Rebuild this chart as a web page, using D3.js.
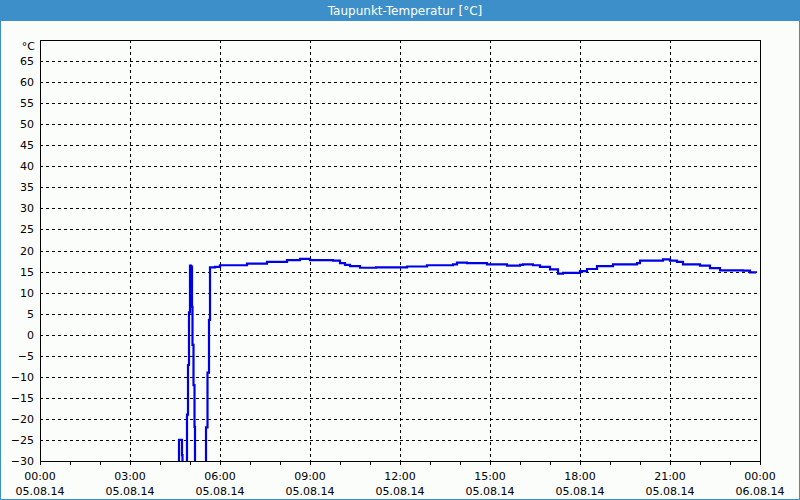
<!DOCTYPE html>
<html><head><meta charset="utf-8">
<script src="https://cdn.jsdelivr.net/npm/d3@7"></script>
<style>html,body{margin:0;padding:0;background:#fbfdfb;}svg{display:block;}</style>
</head><body>
<script>
const title = "Taupunkt-Temperatur [°C]";
const unitLabel = "°C";
// minutes since 05.08.14 00:00
const times = [277,278,283,284,285,293,294,296,298,300,302,304,305,307,309,310,331,332,335,338,340,350,360,406,414,440,454,474,494,514,520,534,540,586,600,610,620,640,672,734,774,826,834,854,886,894,926,934,960,966,986,1000,1020,1036,1046,1060,1080,1094,1114,1140,1146,1174,1194,1200,1240,1246,1260,1274,1286,1306,1320,1340,1360,1394,1406,1420,1432];
const values = [-40,-25,-25,-28.6,-40,-40,-19,-7.2,5.3,16.4,16.2,6.6,-2.4,-12,-21.9,-40,-40,-22,-9,3.5,16.0,16.1,16.5,16.5,16.9,16.9,17.3,17.3,17.7,17.7,18.0,18.0,17.7,17.6,17.0,16.6,16.3,15.9,16.0,16.2,16.5,16.7,17.1,17.0,17.0,16.7,16.7,16.4,16.6,16.7,16.5,16.1,15.5,14.5,14.7,14.7,15.1,15.6,16.3,16.3,16.7,16.7,17.0,17.6,17.6,17.9,17.6,17.3,16.7,16.7,16.4,15.8,15.3,15.3,15.2,14.8,14.7];
const yTicks = [-30,-25,-20,-15,-10,-5,0,5,10,15,20,25,30,35,40,45,50,55,60,65];
const xTickHours = [0,3,6,9,12,15,18,21,24];
const xTimeLabels = ["00:00","03:00","06:00","09:00","12:00","15:00","18:00","21:00","00:00"];
const xDateLabels = ["05.08.14","05.08.14","05.08.14","05.08.14","05.08.14","05.08.14","05.08.14","05.08.14","06.08.14"];

const W = 800, H = 500;
const m = {left:40, right:760, top:40, bottom:461};
const svg = d3.select("body").append("svg").attr("width",W).attr("height",H)
  .style("font-family","'DejaVu Sans', Verdana, sans-serif");

svg.append("rect").attr("x",0.5).attr("y",0.5).attr("width",W-1).attr("height",H-1)
  .attr("fill","#fbfdfb").attr("stroke","#3c8fc8");
svg.append("rect").attr("x",0).attr("y",0).attr("width",W).attr("height",21).attr("fill","#3c8fc8");
svg.append("text").attr("x",405).attr("y",15).attr("text-anchor","middle")
  .attr("fill","#fff").style("font-size","12px").text(title);

const x = d3.scaleLinear().domain([0,24*60]).range([m.left,m.right]);
const y = d3.scaleLinear().domain([-30,70]).range([m.bottom,m.top]);

// grid
const g = svg.append("g");
g.selectAll(".hg").data(yTicks.filter(v=>v>-30)).join("line")
  .attr("x1",m.left).attr("x2",m.right)
  .attr("y1",d=>Math.round(y(d))+0.5).attr("y2",d=>Math.round(y(d))+0.5)
  .attr("stroke","#000").attr("stroke-dasharray","3,3");
g.selectAll(".vg").data(xTickHours.filter(h=>h>0&&h<24)).join("line")
  .attr("x1",d=>Math.round(x(d*60))+0.5).attr("x2",d=>Math.round(x(d*60))+0.5)
  .attr("y1",m.top).attr("y2",m.bottom)
  .attr("stroke","#000").attr("stroke-dasharray","3,3");

// axes
const yAxis = d3.axisLeft(y).tickValues(yTicks).tickSize(0).tickPadding(6);
const ya = svg.append("g").attr("transform",`translate(${m.left},0)`).call(yAxis);
ya.select(".domain").remove();
ya.selectAll("text").style("font-size","11px").style("font-family","'DejaVu Sans', Verdana, sans-serif").attr("fill","#000");
svg.append("text").attr("x",m.left-5).attr("y",50).attr("text-anchor","end")
  .style("font-size","11px").text(unitLabel);

const hours = d3.range(0,25);
const xAxis = d3.axisBottom(x).tickValues(hours.map(h=>h*60)).tickSize(4).tickFormat("");
const xa = svg.append("g").attr("transform",`translate(0,${m.bottom})`).call(xAxis);
xa.select(".domain").remove();
xa.selectAll("line").attr("stroke","#000");

const xl = svg.append("g");
xl.selectAll(".t1").data(xTickHours).join("text")
  .attr("x",(d)=>x(d*60)).attr("y",480).attr("text-anchor","middle")
  .style("font-size","11px").text((d,i)=>xTimeLabels[i]);
xl.selectAll(".t2").data(xTickHours).join("text")
  .attr("x",(d)=>x(d*60)).attr("y",495).attr("text-anchor","middle")
  .style("font-size","11px").text((d,i)=>xDateLabels[i]);

// clip + line
svg.append("clipPath").attr("id","clip").append("rect")
  .attr("x",m.left).attr("y",m.top).attr("width",m.right-m.left).attr("height",m.bottom-m.top);
const data = times.map((t,i)=>({t, v:values[i]}));
svg.append("path").datum(data).attr("clip-path","url(#clip)")
  .attr("fill","none").attr("stroke","#0000e6").attr("stroke-width",2.2)
  .attr("d", d3.line().curve(d3.curveStepAfter).x(d=>x(d.t)).y(d=>y(d.v)));

// frame
svg.append("rect").attr("x",m.left+0.5).attr("y",m.top+0.5)
  .attr("width",m.right-m.left).attr("height",m.bottom-m.top)
  .attr("fill","none").attr("stroke","#000");
</script>
</body></html>
